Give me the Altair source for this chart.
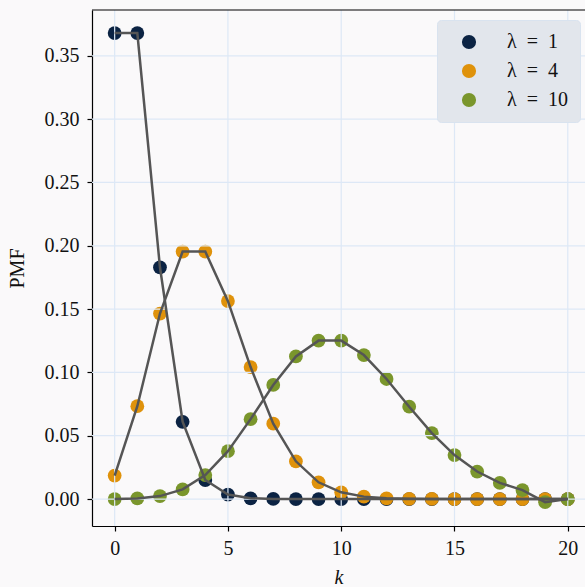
import altair as alt
import pandas as pd

# ---- data ----
k = list(range(21))
pmf_lam1 = [0.368, 0.368, 0.183, 0.061, 0.015, 0.0035, 0.0006, 0.0001, 0.0, 0.0,
            0.0, 0.0, 0.0, 0.0, 0.0, 0.0, 0.0, 0.0, 0.0, 0.0, 0.0]
pmf_lam4 = [0.0185, 0.0733, 0.1465, 0.1954, 0.1954, 0.1563, 0.1042, 0.0595, 0.0298, 0.0132,
            0.0053, 0.0019, 0.0006, 0.0002, 0.0001, 0.0, 0.0, 0.0, 0.0, 0.0, 0.0]
pmf_lam10 = [0.0, 0.0005, 0.0023, 0.0076, 0.0189, 0.0378, 0.0631, 0.0901, 0.1126, 0.1251,
             0.1251, 0.1137, 0.0948, 0.0729, 0.0521, 0.0347, 0.0217, 0.0127, 0.0071, -0.0025, 0.0]
series_labels = ["λ\u2002=\u20021", "λ\u2002=\u20024", "λ\u2002=\u200210"]
series_colors = ["#0b2343", "#df920b", "#7a962c"]
x_ticks = [0, 5, 10, 15, 20]
y_ticks = [0.0, 0.05, 0.10, 0.15, 0.20, 0.25, 0.30, 0.35]

rows = []
for lab, vals in zip(series_labels, [pmf_lam1, pmf_lam4, pmf_lam10]):
    for kk, v in zip(k, vals):
        rows.append({"k": kk, "pmf": v, "series": lab})
df = pd.DataFrame(rows)

FONT = "Liberation Serif"
GRID = "#dde8f6"

x_enc = alt.X("k:Q",
              scale=alt.Scale(domain=[-1, 20.76], nice=False, zero=False),
              axis=alt.Axis(values=x_ticks, title="k", titleFontStyle="italic",
                            format="d", labelPadding=7, titlePadding=9))
y_enc = alt.Y("pmf:Q",
              scale=alt.Scale(domain=[-0.0213, 0.3862], nice=False, zero=False),
              axis=alt.Axis(values=y_ticks, title="PMF", format=".2f",
                            labelPadding=8, titlePadding=17))

points = alt.Chart(df).mark_circle(size=190, opacity=1).encode(
    x=x_enc, y=y_enc,
    color=alt.Color("series:N",
                    scale=alt.Scale(domain=series_labels, range=series_colors),
                    legend=alt.Legend(title=None)),
)

xgrid = alt.Chart(pd.DataFrame({"k": x_ticks})).mark_rule(
    color=GRID, strokeWidth=1.2).encode(x=x_enc)
ygrid = alt.Chart(pd.DataFrame({"pmf": y_ticks})).mark_rule(
    color=GRID, strokeWidth=1.2).encode(y=y_enc)

lines = alt.Chart(df).mark_line(color="#555555", strokeWidth=2.5).encode(
    x=x_enc, y=y_enc, detail="series:N")

top_spine = alt.Chart(pd.DataFrame({"a": [0]})).mark_rule(
    color="black", strokeWidth=1.2).encode(
    x=alt.value(0), x2=alt.value(493), y=alt.value(0))

chart = alt.layer(points, xgrid, ygrid, lines, top_spine).properties(
    width=493, height=516,
    autosize=alt.AutoSizeParams(type="none"),
    padding={"left": 92, "top": 10, "right": 0, "bottom": 61},
    background="#faf9fa",
).configure_view(stroke=None, fill="#faf9fa").configure_axis(
    grid=False,
    domainColor="black", domainWidth=1.2,
    tickColor="black", tickSize=5, tickWidth=1.2,
    labelFont=FONT, labelFontSize=20, labelColor="#111111",
    titleFont=FONT, titleFontSize=20, titleFontWeight="normal", titleColor="#111111",
).configure_legend(
    orient="none", legendX=345, legendY=10,
    fillColor="#e2e6ec", strokeColor="#d9e3ef", cornerRadius=4,
    padding=12, rowPadding=9,
    labelFont=FONT, labelFontSize=20, labelColor="#111111",
    symbolType="circle", symbolSize=200, symbolStrokeWidth=0, symbolOpacity=1,
    labelOffset=28, symbolOffset=10,
)

chart.save("out.html", embed_options={"renderer": "svg", "actions": False})
